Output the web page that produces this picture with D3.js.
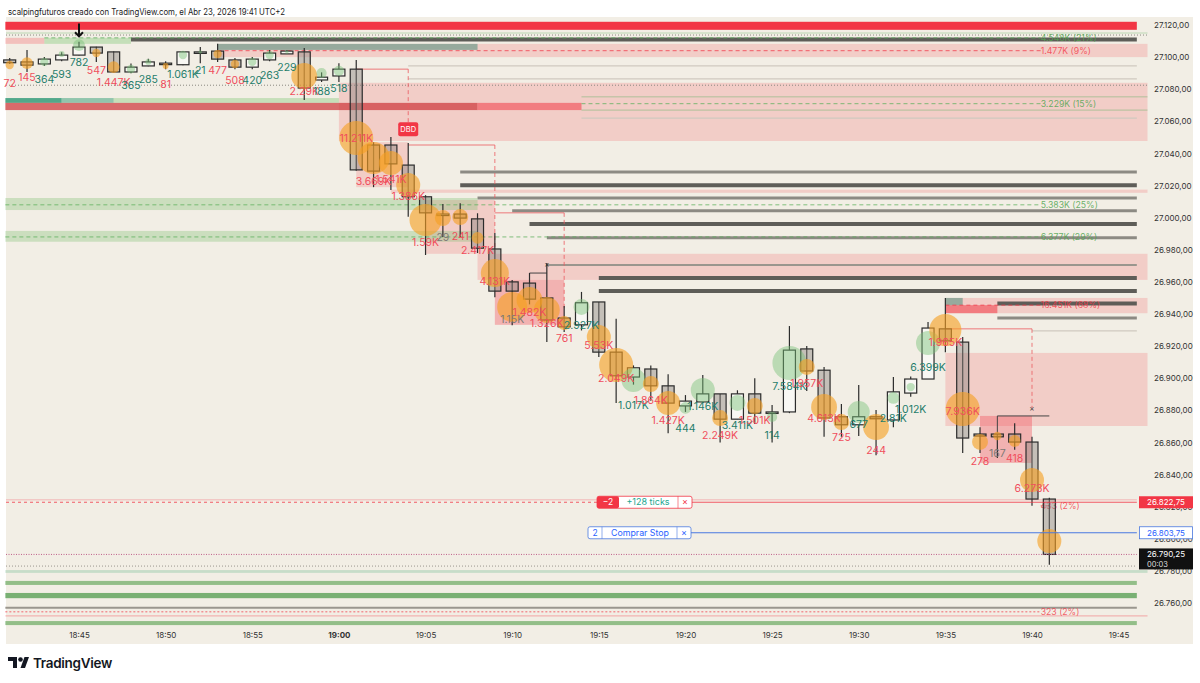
<!DOCTYPE html>
<html>
<head>
<meta charset="utf-8">
<script src="https://cdn.jsdelivr.net/npm/d3@7"></script>
<style>
  body { margin: 0; background: #fff; font-family: Inter, "Liberation Sans", sans-serif; }
  text { font-family: Inter, "Liberation Sans", sans-serif; }
</style>
</head>
<body>
<div id="chart"></div>
<script>
// ---- candles (1 min) ----
const times = ["18:41","18:42","18:43","18:44","18:45","18:46","18:47","18:48","18:49","18:50",
  "18:51","18:52","18:53","18:54","18:55","18:56","18:57","18:58","18:59","19:00",
  "19:01","19:02","19:03","19:04","19:05","19:06","19:07","19:08","19:09","19:10",
  "19:11","19:12","19:13","19:14","19:15","19:16","19:17","19:18","19:19","19:20",
  "19:21","19:22","19:23","19:24","19:25","19:26","19:27","19:28","19:29","19:30",
  "19:31","19:32","19:33","19:34","19:35","19:36","19:37","19:38","19:39","19:40","19:41"];
const opens = [27098.25,27097,27095.75,27098.25,27101.25,27106.25,27103.25,27090.75,27094.5,27096.25,
  27095.25,27103.25,27103.75,27098.25,27093.75,27098.25,27102,27103.25,27085.75,27088.25,
  27092.5,27045.25,27045.25,27032.75,27013,27002.25,27002.25,26999.25,26980.5,26960,
  26959.25,26950,26937.5,26933.25,26947.5,26916.25,26900.75,26905.75,26895.25,26882.75,
  26885.25,26890.25,26874.5,26890.25,26879,26879,26918.25,26905,26876,26871,
  26876,26874,26890.75,26899.5,26930.75,26922.5,26865.25,26865.25,26865.25,26860.25,26824.75];
const highs = [27099.5,27104.5,27100,27103,27109.5,27106.5,27103.5,27096,27099,27097.5,
  27103.5,27106.25,27108.25,27099.5,27100,27104.5,27104.5,27105.75,27090.5,27096.25,
  27098.25,27047,27050.25,27046.5,27014,27008.5,27009,27002.75,26990.5,26961.25,
  26965.5,26971.75,26945,26953.75,26947.5,26937,26908,26908,26902.5,26889.5,
  26902,26890.25,26892.5,26900,26883.25,26932.5,26920,26907,26884,26895.75,
  26880.25,26900.75,26901,26935,26950,26925.75,26869.5,26865.25,26872,26863.5,26825.5];
const lows = [27095.75,27090.75,27094.5,27097.5,27101,27097,27090.5,27090,27094.25,27092.5,
  27095,27096.25,27097,27092.5,27092.5,27097.5,27102,27073.25,27084.5,27084.5,
  27029.25,27019,27017.25,27000.5,26976.75,26988,26988,26978,26950.5,26933,
  26946,26922.5,26928.75,26929.75,26913.25,26884.5,26896,26886,26865.75,26879,
  26884.5,26860,26874.5,26871.5,26860,26878.25,26892,26863.5,26863.5,26864,
  26852,26869.5,26888.5,26899.5,26916.25,26853.5,26853.5,26850.25,26855.5,26820.5,26783.75];
const closes = [27096.5,27095,27098.75,27101.25,27106.25,27102.5,27090.75,27093.75,27097,27095.5,
  27103.25,27103.25,27098.75,27093.75,27098.75,27102.5,27103.75,27080.75,27087.5,27092.5,
  27029.75,27029,27033.5,27013,27003,27002.25,26999.75,26981,26954.25,26954.25,
  26949.25,26936.25,26932,26947,26916.25,26901.5,26906.5,26895.25,26884.5,26885.75,
  26890.25,26874.5,26890.25,26878.25,26879,26917.5,26904.5,26875.25,26871,26876,
  26874.75,26891.5,26899.5,26931.25,26923.25,26862.75,26864,26863.5,26860.25,26824.75,26790.25];

// ---- per-bar volume text (s = sell dominant, b = buy dominant, n = neutral) ----
const volText = ["72","145","364","593","782","547","1.447K","365","285","81",
  "1.061K","21","477","508","420","263","229","2.29K","188","518",
  "11.211K","3.669K","1.541K","1.386K","1.59K","29","241","2.417K","4.131K","1.15K",
  "1.482K","1.326K","761","2.927K","5.53K","2.049K","1.017K","1.864K","1.427K","444",
  "1.146K","2.249K","3.411K","1.501K","114","7.584K","1.957K","4.613K","725","677",
  "244","2.81K","1.012K","6.399K","1.965K","7.936K","278","167","418","6.273K",""];
const volSide = ["s","s","b","b","b","s","s","b","b","s",
  "b","b","s","s","b","b","b","s","b","b",
  "s","s","s","s","s","n","s","s","s","n",
  "s","s","s","b","s","s","b","s","s","b",
  "b","s","b","s","b","b","s","s","s","b",
  "s","b","b","b","s","s","s","n","s","s","s"];
const volPrice = [27083.9,27087.6,27086.4,27089.5,27097,27092,27084.5,27082.6,27086.4,27083.3,
  27089.5,27092,27092,27085.7,27085.7,27088.9,27093.8,27078.9,27078.9,27080.8,
  27049.6,27022.8,27024.1,27013.5,26984.9,26988,26988.6,26979.9,26960.6,26936.9,
  26941.3,26934.4,26925.1,26933.2,26920.7,26900.1,26883.3,26886.4,26874,26869,
  26882.7,26864.6,26870.9,26874,26864.6,26895.2,26897,26875.2,26863.4,26871.5,
  26855.3,26875.2,26880.8,26907,26922.6,26879.6,26848.5,26853.4,26850.3,26831.6,26831.6];

// ---- per-bar imbalance bubble (price level, weight 0-100) ----
const bubblePrice = [27095.1,27096.3,27097,27101.9,27107.5,27102.6,27093.8,27092.6,27097,27094.5,
  27101.3,27103.2,27101.9,27095.7,27097,27101.3,27103.2,27088.2,27090.1,27091.4,
  27049.6,27037.2,27034.1,27020.3,26998.6,26999.8,27000.4,26987.4,26965.5,26944.4,
  26948.7,26942.5,26934.4,26944.4,26925.7,26908.2,26898.9,26896.4,26884.6,26881.5,
  26892.7,26875.2,26884.6,26882.7,26875.9,26909.5,26907,26882.1,26872.7,26879,
  26869.6,26887.7,26894.5,26921.9,26930,26880.8,26860.3,26864,26860.9,26836.6,26798.6];
const bubbleWeight = [6,12,6,3,12,6,12,6,3,3,
  6,1,6,6,6,6,1,58,9,9,
  100,89,50,50,89,22,22,12,68,78,
  58,58,17,22,50,100,50,22,50,12,
  50,22,22,22,9,100,22,58,22,42,
  58,12,6,50,89,100,22,6,12,50,50];

// ---- axes ----
const priceTicks = [27120,27100,27080,27060,27040,27020,27000,26980,26960,26940,
  26920,26900,26880,26860,26840,26820,26800,26780,26760];
const timeTicks = ["18:45","18:50","18:55","19:00","19:05","19:10","19:15","19:20","19:25","19:30","19:35","19:40","19:45"];

// ---- zones: [kind, from, to, top price, bottom price] ----
const zones = [
  ["red", "18:40:45", "19:46:03", 27122, 27117],
  ["pinkL", "18:40:45", "18:43", 27112, 27108.25],
  ["greenL", "18:43", "18:48", 27112, 27108.25],
  ["pink", "18:53", "19:46:40", 27108.25, 27100],
  ["teal", "18:53", "19:08", 27108.25, 27104.5],
  ["pink", "19:00", "19:46:40", 27084, 27047.75],
  ["tealD", "18:40:45", "18:44", 27074.5, 27071.5],
  ["tealM", "18:44", "18:47", 27074.5, 27071.5],
  ["greenL", "18:47", "19:00", 27074.5, 27071.5],
  ["redBand", "18:40:45", "19:08", 27071.5, 27067],
  ["redBand2", "19:08", "19:14", 27071.5, 27067],
  ["pink", "19:01", "19:04", 27047, 27019],
  ["pink", "19:03", "19:46:40", 27017.5, 27015.5],
  ["pink", "19:05", "19:09", 27011, 26977.5],
  ["green", "18:40:45", "19:08", 27012.25, 27004.75],
  ["green", "18:40:45", "19:08", 26991.75, 26985],
  ["pink", "19:08", "19:46:40", 26977.5, 26961.25],
  ["pinkD", "19:09", "19:13", 26961.25, 26933.25],
  ["pink", "19:35", "19:46:40", 26950, 26940.5],
  ["redBand2", "19:35", "19:38", 26945.5, 26940.5],
  ["teal", "19:35", "19:36", 26950, 26945.5],
  ["pink", "19:35", "19:46:40", 26915.75, 26870.25],
  ["pinkD", "19:37", "19:40", 26876.5, 26847.25],
  ["greenPale", "18:40:45", "19:46:40", 26780.5, 26778.75],
  ["greenBar", "18:40:45", "19:46:03", 26773.75, 26771.25],
  ["greenBarD", "18:40:45", "19:46:03", 26766.25, 26763],
  ["pinkL", "18:40:45", "19:46:40", 26752.5, 26751.5],
  ["greenBar", "18:40:45", "19:46:03", 26748.75, 26746.25]
];

// ---- horizontal levels: [kind, from, price] ----
const levels = [
  ["dark", "18:48", 27111],
  ["thin", "19:04", 27094.5],
  ["thin", "19:04", 27086.5],
  ["thin", "19:14", 27062],
  ["mid", "19:07", 27028.5],
  ["dark", "19:07", 27020.25],
  ["mid", "19:08", 27012.25],
  ["mid", "19:10", 27004.25],
  ["dark", "19:11", 26996],
  ["mid", "19:12", 26987.5],
  ["midT", "19:12", 26970.5],
  ["dark", "19:15", 26962.5],
  ["dark", "19:15", 26954.25],
  ["dark", "19:38", 26946.5],
  ["mid", "19:38", 26937.5],
  ["thin", "19:40", 26929.5],
  ["midT", "18:40:45", 26757]
];

// ---- volume nodes: [label, side, from, price] ----
const nodes = [
  ["4.548K (21%)", "b", "18:43", 27112],
  ["1.477K (9%)", "s", "18:53", 27104],
  ["3.229K (15%)", "b", "19:14", 27071],
  ["5.383K (25%)", "b", "18:40:45", 27008],
  ["6.377K (29%)", "b", "18:40:45", 26988],
  ["16.451K (68%)", "s", "19:35", 26945.5],
  ["433 (2%)", "s", "19:41", 26820.5],
  ["323 (2%)", "s", "18:40:45", 26754.5]
];

// ---- supply brackets: [from, to, price, dashed drop to] ----
const brackets = [
  ["19:01", "19:04", 27092.5, 27055],
  ["19:04", "19:09", 27045.25, 26977],
  ["19:09", "19:13", 27003, 26942.5],
  ["19:35", "19:40", 26930.75, 26881.5]
];
const crossMarks = [["19:12", 26971], ["19:40", 26881.5]];
const hooks = [
  [["19:11", 26959], ["19:11", 26965.5], ["19:12", 26965.5]],
  [["19:38", 26866], ["19:38", 26876.5], ["19:41", 26876.5]]
];
const dbd = ["19:04", 27055];

const orders = [
  { qty: "−2", text: "+128 ticks", price: 26822.75, side: "sell" },
  { qty: "2", text: "Comprar Stop", price: 26803.75, side: "buy" }
];
const lastPrice = 26790.25, countdown = "00:03";

// ---------------------------------------------------------
const T = s => { const p = s.split(":").map(Number); return new Date(2026, 3, 23, p[0], p[1], p[2] || 0); };

const x = d3.scaleTime().domain([T("18:45"), T("19:40")]).range([79, 1032]);
const y = d3.scaleLinear().domain([26760, 27120]).range([603, 25]);

const loc = d3.formatLocale({ decimal: ",", thousands: ".", grouping: [3], currency: ["", ""] });
const fmt = loc.format(",.2f");

const RED = "#f23645", GREEN_T = "#1f7d6b", RED_T = "#f04d5c";
const sideColor = { s: RED_T, b: GREEN_T, n: "#7d7a75" };
const plotLeft = 6, plotRight = x(T("19:46:03"));

const svg = d3.select("#chart").append("svg")
  .attr("width", 1200).attr("height", 683);

// title
svg.append("text").attr("x", 8).attr("y", 15)
  .attr("font-size", 8.8).attr("fill", "#222")
  .attr("textLength", 277).attr("lengthAdjust", "spacingAndGlyphs")
  .text("scalpingfuturos creado con TradingView.com, el Abr 23, 2026 19:41 UTC+2");

// chart background
svg.append("rect").attr("x", 6).attr("y", 17).attr("width", 1187).attr("height", 627)
  .attr("fill", "#f2eee5");

// zones
const zoneFill = {
  red: RED, pink: "rgba(242,54,69,0.18)", pinkD: "rgba(242,54,69,0.32)", pinkL: "rgba(242,54,69,0.25)",
  redBand: "rgba(205,55,60,0.72)", redBand2: "rgba(242,70,80,0.6)",
  teal: "rgba(60,135,115,0.5)", tealD: "rgba(40,150,115,0.8)", tealM: "rgba(80,170,135,0.6)",
  green: "rgba(120,190,110,0.32)", greenL: "rgba(130,200,120,0.4)", greenPale: "rgba(120,190,150,0.35)",
  greenBar: "rgba(110,172,100,0.72)", greenBarD: "rgba(100,165,95,0.85)"
};
svg.append("g").selectAll("rect").data(zones).join("rect")
  .attr("x", d => x(T(d[1])))
  .attr("width", d => x(T(d[2])) - x(T(d[1])))
  .attr("y", d => y(d[3]))
  .attr("height", d => y(d[4]) - y(d[3]))
  .attr("fill", d => zoneFill[d[0]]);

// faint lines near top
const g0 = svg.append("g");
g0.append("line").attr("x1", plotLeft).attr("x2", x(T("19:46:40")))
  .attr("y1", y(27115)).attr("y2", y(27115)).attr("stroke", "rgba(120,190,120,0.45)");
[27113.75, 27082.5].forEach(p => {
  g0.append("line").attr("x1", plotLeft).attr("x2", x(T("19:46:40")))
    .attr("y1", y(p)).attr("y2", y(p))
    .attr("stroke", "#8a8780").attr("stroke-dasharray", "1,2");
});
// 3.229K node box outline
[27075.25, 27067].forEach(p => {
  g0.append("line").attr("x1", x(T("19:14"))).attr("x2", x(T("19:46:40")))
    .attr("y1", y(p)).attr("y2", y(p)).attr("stroke", "rgba(110,180,110,0.5)");
});
// pale pink twin line beside the sell order
g0.append("line").attr("x1", plotLeft).attr("x2", plotRight)
  .attr("y1", y(26824.25)).attr("y2", y(26824.25)).attr("stroke", "rgba(242,54,69,0.3)");

// gray levels
const levelStyle = {
  dark: { w: 4, c: "#5e5d58" }, mid: { w: 3, c: "#8c8a83" },
  midT: { w: 2, c: "#9a968e" }, thin: { w: 1.2, c: "#cfc9bf" }
};
svg.append("g").selectAll("line").data(levels).join("line")
  .attr("x1", d => x(T(d[1]))).attr("x2", plotRight)
  .attr("y1", d => y(d[2])).attr("y2", d => y(d[2]))
  .attr("stroke", d => levelStyle[d[0]].c)
  .attr("stroke-width", d => levelStyle[d[0]].w);

// volume nodes
const nodeLabelX = x(T("19:40:30"));
const gn = svg.append("g");
nodes.forEach(d => {
  const c = d[1] === "s" ? "rgba(242,54,69,0.75)" : "rgba(90,175,90,0.75)";
  gn.append("line").attr("x1", x(T(d[2]))).attr("x2", nodeLabelX)
    .attr("y1", y(d[3])).attr("y2", y(d[3]))
    .attr("stroke", c).attr("stroke-width", 1)
    .attr("stroke-dasharray", d[0].startsWith("323") ? "2,2" : "4,3");
  gn.append("text").attr("x", nodeLabelX).attr("y", y(d[3]))
    .attr("dy", "0.35em").attr("font-size", 8.7)
    .attr("fill", d[1] === "s" ? "rgba(242,54,69,0.8)" : "rgba(80,165,80,0.85)")
    .text(d[0]);
});

// brackets
const gb = svg.append("g").attr("fill", "none");
brackets.forEach(d => {
  gb.append("line").attr("x1", x(T(d[0]))).attr("x2", x(T(d[1])))
    .attr("y1", y(d[2])).attr("y2", y(d[2]))
    .attr("stroke", "rgba(235,90,95,0.8)");
  gb.append("line").attr("x1", x(T(d[1]))).attr("x2", x(T(d[1])))
    .attr("y1", y(d[2])).attr("y2", y(d[3]))
    .attr("stroke", "rgba(235,90,95,0.8)").attr("stroke-dasharray", "4,3");
});
hooks.forEach(pts => {
  gb.append("path")
    .attr("d", d3.line()(pts.map(p => [x(T(p[0])), y(p[1])])))
    .attr("stroke", "#444").attr("stroke-width", 1);
});
crossMarks.forEach(d => {
  gb.append("text").attr("x", x(T(d[0]))).attr("y", y(d[1]))
    .attr("dy", "0.35em").attr("text-anchor", "middle")
    .attr("font-size", 8).attr("fill", "#444").text("×");
});

// candles
const bars = times.map((t, i) => ({ t: T(t), o: opens[i], h: highs[i], l: lows[i], c: closes[i] }));
const bodyW = 12;
const gc = svg.append("g");
gc.selectAll("line").data(bars).join("line")
  .attr("x1", d => x(d.t)).attr("x2", d => x(d.t))
  .attr("y1", d => y(d.h)).attr("y2", d => y(d.l))
  .attr("stroke", "#2c2c2c").attr("stroke-width", 1.2);
gc.selectAll("rect").data(bars).join("rect")
  .attr("x", d => x(d.t) - bodyW / 2).attr("width", bodyW)
  .attr("y", d => y(Math.max(d.o, d.c)))
  .attr("height", d => Math.max(1.5, Math.abs(y(d.o) - y(d.c))))
  .attr("fill", d => d.c < d.o ? "rgba(140,134,128,0.45)" : "#f8f7f3")
  .attr("stroke", "#2c2c2c").attr("stroke-width", 1.2);

// bubbles
const r = d3.scaleSqrt().domain([0, 100]).range([0, 17]);
svg.append("g").selectAll("circle").data(bars).join("circle")
  .attr("cx", d => x(d.t))
  .attr("cy", (d, i) => y(bubblePrice[i]))
  .attr("r", (d, i) => r(bubbleWeight[i]))
  .attr("fill", (d, i) => volSide[i] === "b" ? "rgba(120,192,120,0.45)" : "rgba(245,160,35,0.62)");

// volume labels
svg.append("g").selectAll("text").data(bars).join("text")
  .attr("x", d => x(d.t))
  .attr("y", (d, i) => y(volPrice[i]))
  .attr("dy", "0.35em").attr("text-anchor", "middle")
  .attr("font-size", 10.5)
  .attr("fill", (d, i) => sideColor[volSide[i]])
  .text((d, i) => volText[i]);

// DBD tag
const dbdX = x(T(dbd[0])), dbdY = y(dbd[1]);
svg.append("rect").attr("x", dbdX - 10).attr("y", dbdY - 7).attr("width", 20).attr("height", 14)
  .attr("rx", 2).attr("fill", RED);
svg.append("text").attr("x", dbdX).attr("y", dbdY).attr("dy", "0.35em")
  .attr("text-anchor", "middle").attr("font-size", 7.5).attr("fill", "#fff").text("DBD");

// arrow marker above 18:45
const ax = x(T("18:45"));
svg.append("path")
  .attr("d", `M${ax},${y(27121)}V${y(27113)}M${ax - 4},${y(27115.5)}L${ax},${y(27113)}L${ax + 4},${y(27115.5)}`)
  .attr("fill", "none").attr("stroke", "#111").attr("stroke-width", 2);

// price axis
const gy = svg.append("g").attr("transform", `translate(${1150},0)`)
  .call(d3.axisRight(y).tickValues(priceTicks).tickFormat(fmt).tickSize(0).tickPadding(4));
gy.select(".domain").remove();
gy.selectAll("text").attr("font-size", 8).attr("fill", "#333");

// time axis
const gx = svg.append("g").attr("transform", `translate(0,${628})`)
  .call(d3.axisBottom(x).tickValues(timeTicks.map(T)).tickFormat(d3.timeFormat("%H:%M")).tickSize(0).tickPadding(4));
gx.select(".domain").remove();
gx.selectAll("text").attr("font-size", 8).attr("fill", "#333")
  .attr("font-weight", d => d3.timeFormat("%H:%M")(d) === "19:00" ? "bold" : null);

// lines for last price
const gl = svg.append("g");
gl.append("line").attr("x1", plotLeft).attr("x2", plotRight)
  .attr("y1", y(lastPrice)).attr("y2", y(lastPrice))
  .attr("stroke", "#c0608a").attr("stroke-dasharray", "1,1.5");
gl.append("line").attr("x1", plotLeft).attr("x2", plotRight)
  .attr("y1", y(26783)).attr("y2", y(26783))
  .attr("stroke", "#9a968e").attr("stroke-dasharray", "1,2");

// orders
const sell = orders[0], buy = orders[1];
const sy = y(sell.price), by = y(buy.price);
gl.append("line").attr("x1", plotLeft).attr("x2", 597).attr("y1", sy).attr("y2", sy)
  .attr("stroke", RED).attr("stroke-dasharray", "3,3").attr("stroke-width", 0.8);
gl.append("line").attr("x1", 692).attr("x2", plotRight).attr("y1", sy).attr("y2", sy)
  .attr("stroke", RED).attr("stroke-width", 0.8);
gl.append("line").attr("x1", 691).attr("x2", plotRight).attr("y1", by).attr("y2", by)
  .attr("stroke", "#4a78e0").attr("stroke-width", 1);

const gs = svg.append("g");
gs.append("rect").attr("x", 597).attr("y", sy - 6).attr("width", 95).attr("height", 12)
  .attr("rx", 2).attr("fill", "#fff").attr("stroke", RED).attr("stroke-width", 0.8);
gs.append("rect").attr("x", 597).attr("y", sy - 6).attr("width", 22).attr("height", 12)
  .attr("rx", 2).attr("fill", RED);
gs.append("text").attr("x", 608).attr("y", sy).attr("dy", "0.35em").attr("text-anchor", "middle")
  .attr("font-size", 8.5).attr("fill", "#fff").text(sell.qty);
gs.append("text").attr("x", 648).attr("y", sy).attr("dy", "0.35em").attr("text-anchor", "middle")
  .attr("font-size", 9).attr("fill", "#22a68f").text(sell.text);
gs.append("line").attr("x1", 678).attr("x2", 678).attr("y1", sy - 6).attr("y2", sy + 6)
  .attr("stroke", RED).attr("stroke-width", 0.6);
gs.append("text").attr("x", 685).attr("y", sy).attr("dy", "0.35em").attr("text-anchor", "middle")
  .attr("font-size", 9).attr("fill", RED).text("×");

const gbuy = svg.append("g");
gbuy.append("rect").attr("x", 588).attr("y", by - 6).attr("width", 103).attr("height", 12)
  .attr("rx", 2).attr("fill", "#fff").attr("stroke", "#4a78e0").attr("stroke-width", 0.8);
gbuy.append("text").attr("x", 595).attr("y", by).attr("dy", "0.35em").attr("text-anchor", "middle")
  .attr("font-size", 8.5).attr("fill", "#2962ff").text(buy.qty);
gbuy.append("line").attr("x1", 602).attr("x2", 602).attr("y1", by - 6).attr("y2", by + 6)
  .attr("stroke", "#4a78e0").attr("stroke-width", 0.6);
gbuy.append("text").attr("x", 640).attr("y", by).attr("dy", "0.35em").attr("text-anchor", "middle")
  .attr("font-size", 8.8).attr("fill", "#2962ff").text(buy.text);
gbuy.append("line").attr("x1", 677).attr("x2", 677).attr("y1", by - 6).attr("y2", by + 6)
  .attr("stroke", "#4a78e0").attr("stroke-width", 0.6);
gbuy.append("text").attr("x", 684).attr("y", by).attr("dy", "0.35em").attr("text-anchor", "middle")
  .attr("font-size", 9).attr("fill", "#2962ff").text("×");

// right price tags
const gt = svg.append("g");
gt.append("rect").attr("x", 1139).attr("y", sy - 6).attr("width", 54).attr("height", 12).attr("fill", RED);
gt.append("text").attr("x", 1166).attr("y", sy).attr("dy", "0.35em").attr("text-anchor", "middle")
  .attr("font-size", 8).attr("fill", "#fff").text(fmt(sell.price));
gt.append("rect").attr("x", 1139.5).attr("y", by - 6).attr("width", 53).attr("height", 12)
  .attr("fill", "#fff").attr("stroke", "#4a78e0").attr("stroke-width", 0.8);
gt.append("text").attr("x", 1166).attr("y", by).attr("dy", "0.35em").attr("text-anchor", "middle")
  .attr("font-size", 8).attr("fill", "#2962ff").text(fmt(buy.price));
const ly = y(lastPrice);
gt.append("rect").attr("x", 1139).attr("y", ly - 6).attr("width", 54).attr("height", 21).attr("fill", "#111");
gt.append("text").attr("x", 1166).attr("y", ly).attr("dy", "0.35em").attr("text-anchor", "middle")
  .attr("font-size", 8).attr("fill", "#fff").text(fmt(lastPrice));
gt.append("text").attr("x", 1147).attr("y", ly + 10).attr("dy", "0.35em")
  .attr("font-size", 7.5).attr("fill", "#ddd").text(countdown);

// TradingView logo
const gLogo = svg.append("g").attr("fill", "#131722");
gLogo.append("path").attr("d", "M8,657H17V668H13V661H8Z");
gLogo.append("circle").attr("cx", 20.5).attr("cy", 659.5).attr("r", 2.3);
gLogo.append("path").attr("d", "M24.5,657H29L25,668H20.5Z");
gLogo.append("text").attr("x", 33).attr("y", 663).attr("dy", "0.35em")
  .attr("font-size", 13.5).attr("font-weight", 600).attr("letter-spacing", -0.3).text("TradingView");
</script>
</body>
</html>
